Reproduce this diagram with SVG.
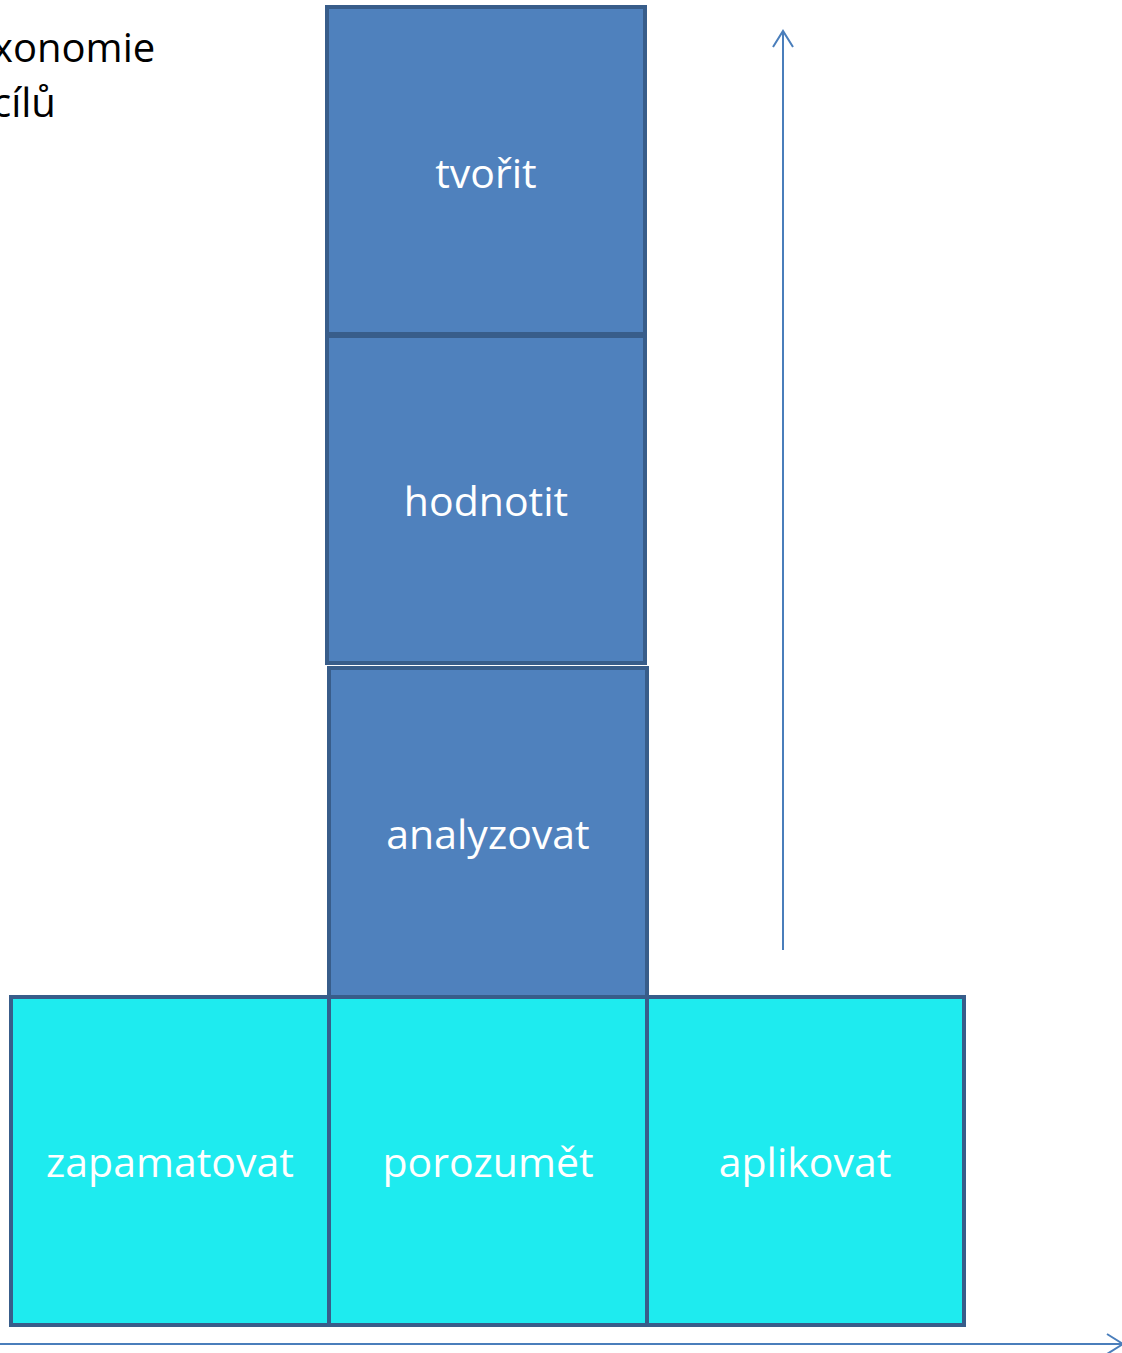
<svg xmlns="http://www.w3.org/2000/svg" width="1122" height="1353" viewBox="0 0 1122 1353">
<style>
.b{fill:#4F81BD;stroke:#385D8A;stroke-width:4}
.c{fill:#1EEBEF;stroke:#385D8A;stroke-width:4}
.t{font-family:"Open Sans","DejaVu Sans",sans-serif;font-size:41px;fill:#FFFFFF;text-anchor:middle}
.h{font-family:"Open Sans","DejaVu Sans",sans-serif;font-size:40px;fill:#000000}
.a{stroke:#4A7EBB;stroke-width:2;fill:none}
</style>
<defs>
<marker id="arr" markerWidth="20" markerHeight="24" refX="17" refY="11" orient="auto" markerUnits="userSpaceOnUse">
<path d="M1,1 L17,11 L1,21" fill="none" stroke="#4A7EBB" stroke-width="2"/>
</marker>
</defs>
<g id="title">
<text class="h" x="-8" y="62">xonomie</text>
<text class="h" x="-8" y="117">cílů</text>
</g>
<g id="tvorit"><rect class="b" x="327" y="7" width="318" height="327"/><text class="t" x="486" y="188">tvořit</text></g>
<g id="hodnotit"><rect class="b" x="327" y="336" width="318" height="327"/><text class="t" x="486" y="516">hodnotit</text></g>
<g id="analyzovat"><rect class="b" x="329" y="668" width="318" height="329"/><text class="t" x="488" y="849">analyzovat</text></g>
<g id="zapamatovat"><rect class="c" x="11" y="997" width="318" height="328"/><text class="t" x="170" y="1177">zapamatovat</text></g>
<g id="porozumet"><rect class="c" x="329" y="997" width="318" height="328"/><text class="t" x="488" y="1177">porozumět</text></g>
<g id="aplikovat"><rect class="c" x="647" y="997" width="317" height="328"/><text class="t" x="805" y="1177">aplikovat</text></g>
<g id="connectors">
<line class="a" x1="783" y1="950" x2="783" y2="31" marker-end="url(#arr)"/>
<line class="a" x1="0" y1="1344" x2="1123" y2="1344" marker-end="url(#arr)"/>
</g>
</svg>
